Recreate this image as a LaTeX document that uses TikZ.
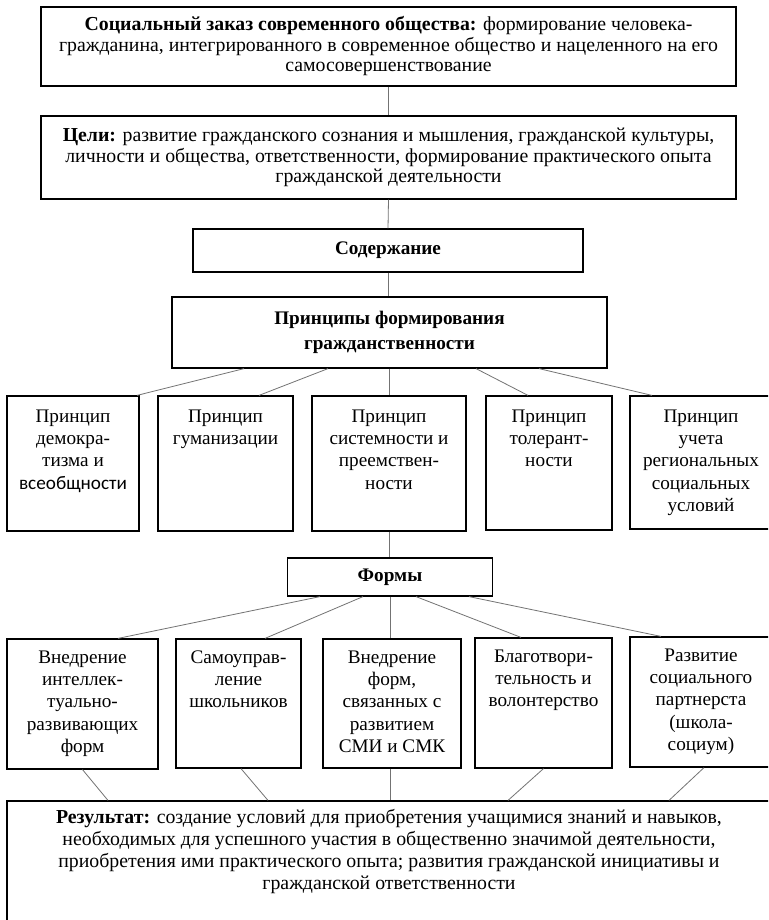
\documentclass[tikz,border=0pt]{standalone}
\usepackage{fontspec}
\setmainfont{Liberation Serif}
\newfontfamily\sansword{Carlito}
\usetikzlibrary{positioning}

\begin{document}
\begin{tikzpicture}[x=1pt,y=1pt,yscale=-1,
  box/.style={draw, line width=1.2pt, inner sep=0pt},
  link/.style={draw=black!55, line width=0.8pt},
  txt/.style={inner sep=0pt, align=center, font=\fontsize{19.2}{22.3}\selectfont},
  toptxt/.style={inner sep=0pt, align=center, font=\fontsize{19.8}{20.5}\selectfont}]

\clip (0,0) rectangle (768,920);
\fill[white] (0,0) rectangle (768,920);

% Boxes of the chain
\node[box, toptxt, minimum width=695pt, minimum height=79pt] (soc) at (388.5,46.5) {\textbf{Социальный заказ современного общества:} формирование человека-\\гражданина, интегрированного в современное общество и нацеленного на его\\самосовершенствование};
\node[box, toptxt, minimum width=695pt, minimum height=83pt] (goal) at (388.5,157.5) {\textbf{Цели:} развитие гражданского сознания и мышления, гражданской культуры,\\личности и общества, ответственности, формирование практического опыта\\гражданской деятельности};
\node[box, txt, minimum width=390pt, minimum height=43pt] (cont) at (388,250.5) {\textbf{Содержание}};
\node[box, txt, font=\fontsize{19.2}{25}\selectfont, minimum width=435pt, minimum height=71pt] (prin) at (389.5,332.5) {\textbf{Принципы формирования}\\\textbf{гражданственности}};

% Principle boxes
\node[box, minimum width=132pt, minimum height=135pt] (p1) at (73,463.5) {};
\node[box, minimum width=135pt, minimum height=135pt] (p2) at (225.5,463.5) {};
\node[box, minimum width=154pt, minimum height=135pt] (p3) at (389,463.5) {};
\node[box, minimum width=126pt, minimum height=134pt] (p4) at (549,463) {};
\node[box, minimum width=142pt, minimum height=133pt] (p5) at (701,462.5) {};

% Text Node
\node[txt, anchor=north] (p1t) at ([yshift=14pt]p1.north) {Принцип\\демокра-\\тизма и\\{\sansword всеобщности}};
\node[txt, anchor=north] (p2t) at ([yshift=14pt]p2.north) {Принцип\\гуманизации};
\node[txt, anchor=north] (p3t) at ([yshift=14pt]p3.north) {Принцип\\системности и\\преемствен-\\ности};
\node[txt, anchor=north] (p4t) at ([yshift=14pt]p4.north) {Принцип\\толерант-\\ности};
\node[txt, anchor=north] (p5t) at ([yshift=14pt]p5.north) {Принцип\\учета\\региональных\\социальных\\условий};

\node[box, txt, minimum width=205pt, minimum height=38pt] (forms) at (390,577) {\textbf{Формы}};

% Form boxes
\node[box, minimum width=151pt, minimum height=130pt] (f1) at (82.5,704) {};
\node[box, minimum width=125pt, minimum height=129pt] (f2) at (238.5,703.5) {};
\node[box, minimum width=138pt, minimum height=129pt] (f3) at (392,703.5) {};
\node[box, minimum width=137pt, minimum height=130pt] (f4) at (543.5,703) {};
\node[box, minimum width=142pt, minimum height=130pt] (f5) at (701,702) {};

% Text Node
\node[txt, anchor=north] (f1t) at ([yshift=12pt]f1.north) {Внедрение\\интеллек-\\туально-\\развивающих\\форм};
\node[txt, anchor=north] (f2t) at ([yshift=12pt]f2.north) {Самоуправ-\\ление\\школьников};
\node[txt, anchor=north] (f3t) at ([yshift=12pt]f3.north) {Внедрение\\форм,\\связанных с\\развитием\\СМИ и СМК};
\node[txt, anchor=north] (f4t) at ([yshift=12pt]f4.north) {Благотвори-\\тельность и\\волонтерство};
\node[txt, anchor=north] (f5t) at ([yshift=12pt]f5.north) {Развитие\\социального\\партнерста\\(школа-\\социум)};

\node[box, minimum width=764pt, minimum height=134pt] (res) at (389,868) {};
\node[txt, font=\fontsize{19.8}{22}\selectfont, anchor=north] (rest) at ([yshift=9pt]res.north) {\textbf{Результат:} создание условий для приобретения учащимися знаний и навыков,\\необходимых для успешного участия в общественно значимой деятельности,\\приобретения ими практического опыта; развития гражданской инициативы и\\гражданской ответственности};

%Straight Lines
\draw[link] (soc.south) -- (goal.north);
\draw[link] (goal.south) -- (cont.north);
\draw[link] (cont.south) -- (cont.south |- prin.north);

%Straight Lines
\draw[link] ([xshift=-145.5pt]prin.south) -- ([xshift=64pt]p1.north);
\draw[link] ([xshift=-61.5pt]prin.south) -- ([xshift=33.5pt]p2.north);
\draw[link] (p3.north |- prin.south) -- (p3.north);
\draw[link] ([xshift=86.5pt]prin.south) -- ([xshift=-21pt]p4.north);
\draw[link] ([xshift=149.5pt]prin.south) -- ([xshift=-49pt]p5.north);
\draw[link] (p3.south) -- (p3.south |- forms.north);

%Straight Lines
\draw[link] ([xshift=-70pt]forms.south) -- ([xshift=35.5pt]f1.north);
\draw[link] ([xshift=-27pt]forms.south) -- ([xshift=26.5pt]f2.north);
\draw[link] (forms.south) -- (forms.south |- f3.north);
\draw[link] ([xshift=26pt]forms.south) -- ([xshift=-22.5pt]f4.north);
\draw[link] ([xshift=79pt]forms.south) -- ([xshift=-40pt]f5.north);

%Straight Lines
\draw[link] (f1.south) -- ([xshift=-281pt]res.north);
\draw[link] ([xshift=2.5pt]f2.south) -- ([xshift=-121pt]res.north);
\draw[link] (f3.south -| forms.south) -- (forms.south |- res.north);
\draw[link] (f4.south) -- ([xshift=119pt]res.north);
\draw[link] ([xshift=3pt]f5.south) -- ([xshift=280pt]res.north);

\end{tikzpicture}
\end{document}
